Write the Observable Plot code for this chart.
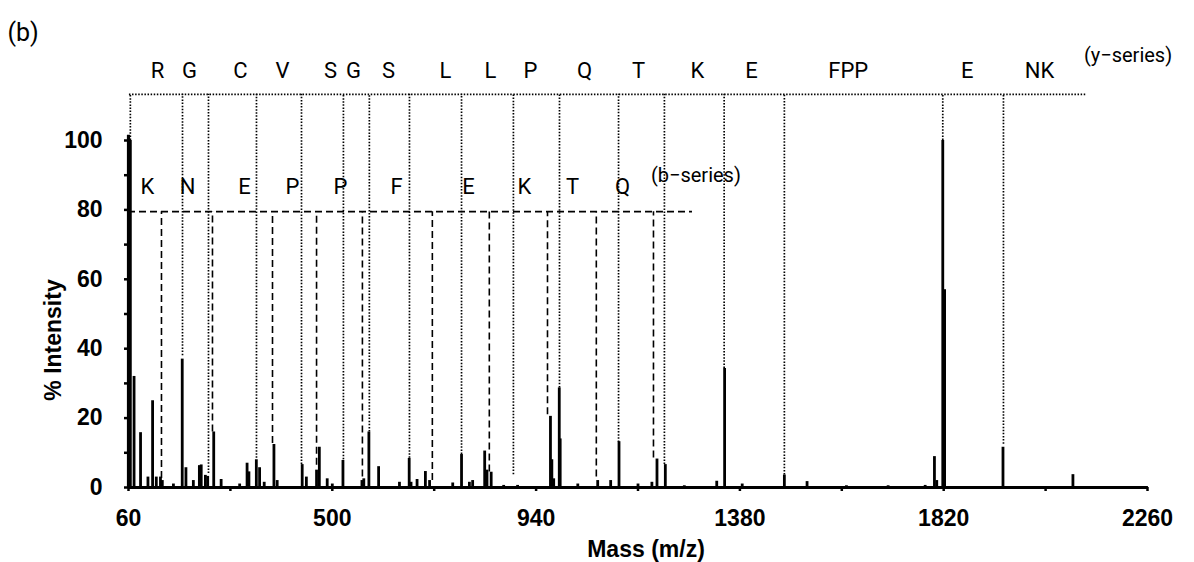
<!DOCTYPE html>
<html>
<head>
<meta charset="utf-8">
<script src="https://cdn.jsdelivr.net/npm/d3@7"></script>
<script src="https://cdn.jsdelivr.net/npm/@observablehq/plot@0.6"></script>
<style>
  html, body { margin: 0; padding: 0; background: #fff; }
  #chart svg { display: block; }
</style>
</head>
<body>
<div id="chart"></div>
<script>
// ---- Spectrum peaks (m/z, % intensity) ----
const peakMz = [64, 72, 86, 102, 112, 120, 129, 133, 157, 176, 184, 200, 213, 217, 226, 231, 244, 260, 300, 316, 320, 336, 343, 353, 374, 381, 435, 444, 466, 472, 489, 500, 523, 564, 568, 579, 600, 645, 666, 670, 683, 701, 710, 760, 779, 796, 803, 829, 834, 843, 870, 900, 971, 974, 978, 990, 992, 1030, 1073, 1101, 1119, 1160, 1190, 1201, 1219, 1260, 1330, 1347, 1385, 1476, 1525, 1610, 1700, 1780, 1800, 1805, 1818, 1822, 1948, 2099];
const peakIntensity = [100, 32, 15.8, 3, 25, 3, 3, 2, 1, 37, 5.7, 2, 6.3, 6.5, 3.5, 3.2, 16, 2.3, 1, 7, 4.5, 8, 5.7, 1.5, 12.4, 2, 6.6, 3, 5, 11.6, 2.5, 1, 7.8, 2, 2.5, 16, 6, 1.5, 8.4, 1.5, 2.3, 4.6, 2, 1.3, 9.5, 1.5, 2, 10.5, 5, 4.4, 0.6, 0.6, 20.5, 8, 2.5, 28.7, 14, 1, 2, 2, 13.2, 1, 1.5, 8.2, 6.6, 0.5, 1.8, 34.3, 1, 3.6, 1.7, 0.5, 0.5, 0.6, 8.9, 2, 100, 57, 11.6, 3.7];

// ---- y-series (dotted) ----
const ySeriesLevel = 113.3;
const ySeriesStart = 62;
const ySeriesEndMz = 2130;
const ySeriesMz  = [64, 176.6, 232.7, 336.3, 433.5, 524, 580, 666.6, 779, 891, 990.5, 1118, 1217, 1346, 1476, 1818, 1949];
const ySeriesEnd = [100, 38, 4, 8.4, 6.6, 8, 16, 8.4, 9.5, 3.7, 28.7, 13, 6.6, 34.3, 3.6, 100, 12.5];
const yLabels   = ["R", "G", "C", "V", "S", "G", "S", "L", "L", "P", "Q", "T", "K", "E", "FPP", "E", "NK"];
const yLabelMz  = [122.6, 191.7, 301.8, 392.5, 496, 545.7, 621.3, 744.4, 841.5, 928, 1044.5, 1161, 1288, 1405, 1614, 1871, 2027];
const yLabelLevel = 120;
const ySeriesName = "(y\u2212series)";
const ySeriesNameMz = 2218;
const ySeriesNameLevel = 124.5;

// ---- b-series (dashed) ----
const bSeriesLevel = 79.5;
const bSeriesStart = 60;
const bSeriesEndMz = 1277.6;
const bSeriesMz  = [131.2, 241.3, 370.9, 466, 565, 716, 839, 964.6, 1070, 1193.4];
const bSeriesEnd = [2.6, 16, 12.7, 6.4, 3, 2, 4.5, 21, 3, 8.5];
const bLabels   = ["K", "N", "E", "P", "P", "F", "E", "K", "T", "Q"];
const bLabelMz  = [101, 187.4, 310.4, 414, 517.7, 638.6, 794, 915, 1018.5, 1126.5];
const bLabelLevel = 86.5;
const bSeriesName = "(b\u2212series)";
const bSeriesNameMz = 1285;
const bSeriesNameLevel = 90;

// ---- axes ----
const xTicks = d3.range(60, 2261, 220);
const xTickLabels = [60, 500, 940, 1380, 1820, 2260];
const yTicks = d3.range(0, 101, 10);
const yTickLabels = [0, 20, 40, 60, 80, 100];

const peaks = peakMz.map((m, i) => ({mz: m, intensity: peakIntensity[i]}));
const ySer = ySeriesMz.map((m, i) => ({mz: m, end: ySeriesEnd[i]}));
const bSer = bSeriesMz.map((m, i) => ({mz: m, end: bSeriesEnd[i]}));
const yLab = yLabels.map((t, i) => ({t, mz: yLabelMz[i]}));
const bLab = bLabels.map((t, i) => ({t, mz: bLabelMz[i]}));

const labelFont = "Roboto, 'Liberation Sans', sans-serif";
const axisFont = "'Liberation Sans', Arial, sans-serif";

const chart = Plot.plot({
  width: 1194,
  height: 562,
  marginLeft: 128,
  marginRight: 47,
  marginTop: 140,
  marginBottom: 75,
  style: {fontFamily: axisFont, background: "#fff", color: "#000"},
  x: {domain: [60, 2260]},
  y: {domain: [0, 100]},
  marks: [
    // y-series dotted lines
    Plot.ruleY([ySeriesLevel], {x1: ySeriesStart, x2: ySeriesEndMz, stroke: "#000", strokeWidth: 1.7, strokeDasharray: "1.5 1.6"}),
    Plot.ruleX(ySer, {x: "mz", y1: "end", y2: ySeriesLevel, stroke: "#000", strokeWidth: 1.7, strokeDasharray: "1.5 1.6"}),
    // b-series dashed lines
    Plot.ruleY([bSeriesLevel], {x1: bSeriesStart, x2: bSeriesEndMz, stroke: "#000", strokeWidth: 1.6, strokeDasharray: "7 4"}),
    Plot.ruleX(bSer, {x: "mz", y1: "end", y2: bSeriesLevel, stroke: "#000", strokeWidth: 1.6, strokeDasharray: "7 4"}),
    // spectrum peaks
    Plot.ruleX(peaks, {x: "mz", y1: 0, y2: "intensity", stroke: "#000", strokeWidth: 2.8}),
    // axis lines
    Plot.ruleY([0], {x1: 60, x2: 2262, stroke: "#000", strokeWidth: 3.2}),
    Plot.ruleX([60], {y1: 0, y2: 101.5, stroke: "#000", strokeWidth: 3.2}),
    Plot.axisX({ticks: xTicks, tickSize: 4, tickPadding: 18, strokeWidth: 2.5,
      tickFormat: d => xTickLabels.includes(d) ? String(d) : "",
      fontSize: 23, fontWeight: "bold", label: null, fontFamily: axisFont}),
    Plot.axisY({ticks: yTicks, tickSize: 4, tickPadding: 22, strokeWidth: 2.5,
      tickFormat: d => yTickLabels.includes(d) ? String(d) : "",
      fontSize: 23, fontWeight: "bold", label: null, fontFamily: axisFont}),
    // letter labels
    Plot.text(yLab, {x: "mz", y: yLabelLevel, text: "t", fontSize: 22, fontFamily: labelFont, fill: "#000"}),
    Plot.text([ySeriesName], {x: ySeriesNameMz, y: ySeriesNameLevel, text: d => d, fontSize: 20, fontFamily: labelFont, fill: "#000"}),
    Plot.text(bLab, {x: "mz", y: bLabelLevel, text: "t", fontSize: 22, fontFamily: labelFont, fill: "#000"}),
    Plot.text([bSeriesName], {x: bSeriesNameMz, y: bSeriesNameLevel, text: d => d, fontSize: 20, fontFamily: labelFont, fill: "#000"}),
    // axis titles
    Plot.text(["Mass (m/z)"], {frameAnchor: "bottom", textAnchor: "middle", dx: 8, dy: 69, text: d => d, fontSize: 23, fontWeight: "bold", fontFamily: axisFont, fill: "#000"}),
    Plot.text(["% Intensity"], {frameAnchor: "left", textAnchor: "middle", dx: -75, dy: 26, rotate: -90, text: d => d, fontSize: 23, fontWeight: "bold", fontFamily: axisFont, fill: "#000"}),
    // panel tag
    Plot.text(["(b)"], {frameAnchor: "top-left", textAnchor: "start", dx: -121, dy: -117, text: d => d, fontSize: 25, fontFamily: labelFont, fill: "#000"})
  ]
});
document.getElementById("chart").appendChild(chart);
</script>
</body>
</html>
